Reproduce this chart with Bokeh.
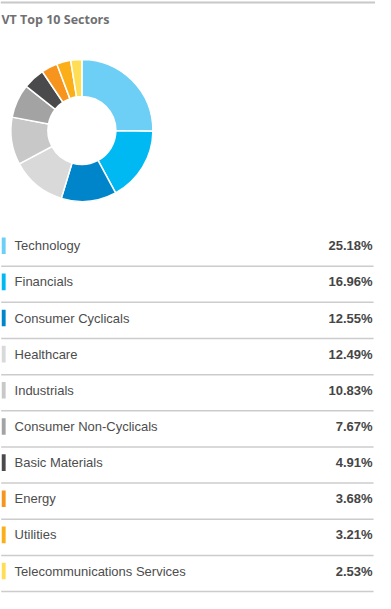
import math
from bokeh.plotting import figure
from bokeh.models import Range1d, ColumnDataSource
from bokeh.core.properties import value
from bokeh.embed import file_html
from bokeh.resources import INLINE

title_text = "VT Top 10 Sectors"
sectors = ["Technology", "Financials", "Consumer Cyclicals", "Healthcare", "Industrials",
           "Consumer Non-Cyclicals", "Basic Materials", "Energy", "Utilities",
           "Telecommunications Services"]
weights = [25.18, 16.96, 12.55, 12.49, 10.83, 7.67, 4.91, 3.68, 3.21, 2.53]
colors = ["#6dcff6", "#00b9f2", "#0085ca", "#d9d9d9", "#c8c8c8",
          "#a3a3a3", "#4a4a4c", "#f7941d", "#fbae17", "#ffdd55"]

W, H = 375, 593
p = figure(width=W, height=H, output_backend="svg", toolbar_location=None,
           x_range=Range1d(2, 389), y_range=Range1d(607, 0),
           min_border=0, outline_line_color=None, background_fill_color="white",
           border_fill_color="white")
p.axis.visible = False
p.grid.visible = False

# top rule
p.segment(x0=[2], y0=[2], x1=[389], y1=[2], line_color="#c8c8c8", line_width=2)
# title
p.text(x=[3], y=[19.5], text=[title_text], text_font=value("Open Sans"),
       text_font_style="bold", text_font_size="12.5px", text_color="#707072",
       text_baseline="alphabetic")

# donut
total = sum(weights)
starts, ends = [], []
cum = 0.0
for w in weights:
    starts.append(math.pi / 2 - 2 * math.pi * cum / total)
    cum += w
    ends.append(math.pi / 2 - 2 * math.pi * cum / total)
src = ColumnDataSource(dict(start=starts, end=ends, color=colors,
                            x=[86] * len(weights), y=[133] * len(weights)))
p.annular_wedge(x="x", y="y", inner_radius=34, outer_radius=71,
                inner_radius_units="screen", outer_radius_units="screen",
                start_angle="start", end_angle="end", direction="clock",
                fill_color="color", line_color="white", line_width=1.5, source=src)

# legend table
row0, step = 251, 37
yc = [row0 + step * i for i in range(len(sectors))]
pct = ["%.2f%%" % w for w in weights]
tsrc = ColumnDataSource(dict(y=yc, top=[v - 8.5 for v in yc], bottom=[v + 8.5 for v in yc],
                             div=[v + 21 for v in yc], name=sectors, pct=pct, color=colors))
p.quad(left=3.3, right=7.3, top="top", bottom="bottom", fill_color="color",
       line_color=None, source=tsrc)
p.text(x=16.5, y="y", text="name", text_font=value("Liberation Sans"),
       text_font_size="13px", text_color="#4d4d4d", text_baseline="middle", source=tsrc)
p.text(x=386, y="y", text="pct", text_font=value("Liberation Sans"), text_font_style="bold",
       text_font_size="13px", text_color="#454545", text_baseline="middle",
       text_align="right", source=tsrc)
p.segment(x0=2.7, y0="div", x1=387, y1="div", line_color="#cccccc", line_width=1.5,
          source=tsrc)

open("out.html", "w").write(file_html(p, INLINE))
